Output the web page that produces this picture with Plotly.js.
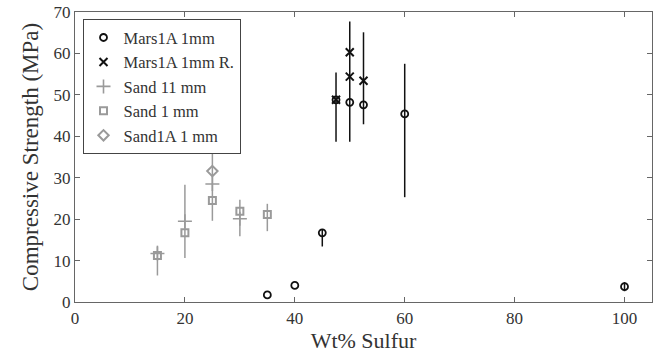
<!DOCTYPE html>
<html><head><meta charset="utf-8">
<script src="https://cdn.plot.ly/plotly-3.0.1.min.js"></script>
<style>html,body{margin:0;padding:0;background:#fff}</style>
</head><body>
<div id="chart" style="width:659px;height:356px"></div>
<script>
// Mars1A 1mm (open circles)
const marsX = [35, 40, 45, 47.5, 50, 52.5, 60, 100];
const marsY = [1.7, 4.0, 16.7, 48.8, 48.2, 47.6, 45.4, 3.7];
const marsErrPlus = [0, 0, 0.9, 0, 0, 0, 12.1, 1.1];
const marsErrMinus = [0, 0, 3.3, 0, 0, 0, 20.1, 1.1];
// Mars1A 1mm R. (crosses)
const marsRX = [47.5, 50, 50, 52.5];
const marsRY = [48.8, 60.3, 54.4, 53.4];
const marsRErrPlus = [6.6, 7.4, 0, 11.7];
const marsRErrMinus = [10.1, 21.6, 0, 10.5];
// Sand 11 mm (plus)
const sand11X = [15, 20, 25, 30];
const sand11Y = [11.7, 19.5, 28.5, 20.1];
const sand11ErrPlus = [1.9, 8.8, 8.6, 4.6];
const sand11ErrMinus = [5.3, 8.9, 8.9, 4.2];
// Sand 1 mm (squares)
const sand1X = [15, 20, 25, 30, 35];
const sand1Y = [11.2, 16.7, 24.5, 21.9, 21.1];
const sand1ErrPlus = [0, 0, 0, 0, 2.6];
const sand1ErrMinus = [0, 0, 0, 0, 4.0];
// Sand1A 1 mm (diamond)
const sand1AX = [25];
const sand1AY = [31.6];

const black = '#111';
const gray = '#9a9a9a';
const serif = "'Liberation Serif', 'DejaVu Serif', serif";
function err(p, m, c) {
  return {type: 'data', symmetric: false, array: p, arrayminus: m, color: c, thickness: 1.5, width: 0};
}
const traces = [
  {x: sand11X, y: sand11Y, name: 'Sand 11 mm', mode: 'markers', type: 'scatter',
   marker: {symbol: 'cross-thin-open', size: 10, color: gray, line: {color: gray, width: 1.6}},
   error_y: err(sand11ErrPlus, sand11ErrMinus, gray), legendrank: 3},
  {x: sand1X, y: sand1Y, name: 'Sand 1 mm', mode: 'markers', type: 'scatter',
   marker: {symbol: 'square-open', size: 7, color: gray, line: {color: gray, width: 2}},
   error_y: err(sand1ErrPlus, sand1ErrMinus, gray), legendrank: 4},
  {x: sand1AX, y: sand1AY, name: 'Sand1A 1 mm', mode: 'markers', type: 'scatter',
   marker: {symbol: 'diamond-open', size: 8, color: gray, line: {color: gray, width: 2}}, legendrank: 5},
  {x: marsX, y: marsY, name: 'Mars1A 1mm', mode: 'markers', type: 'scatter',
   marker: {symbol: 'circle-open', size: 7, color: black, line: {color: black, width: 1.8}},
   error_y: err(marsErrPlus, marsErrMinus, black), legendrank: 1},
  {x: marsRX, y: marsRY, name: 'Mars1A 1mm R.', mode: 'markers', type: 'scatter',
   marker: {symbol: 'x-thin-open', size: 8, color: black, line: {color: black, width: 2}},
   error_y: err(marsRErrPlus, marsRErrMinus, black), legendrank: 2}
];
const axisCommon = {
  showline: true, linecolor: '#666', linewidth: 1.2, mirror: 'ticks',
  ticks: 'inside', ticklen: 5, tickcolor: '#666', tickwidth: 1,
  showgrid: false, zeroline: false,
  tickfont: {family: serif, size: 17, color: '#333'}
};
const layout = {
  width: 659, height: 356,
  margin: {l: 75, r: 7, t: 12, b: 54},
  paper_bgcolor: '#fff', plot_bgcolor: '#fff',
  font: {family: serif, color: '#333'},
  showlegend: true,
  legend: {x: 0.013, y: 0.975, xanchor: 'left', yanchor: 'top', bgcolor: '#fff',
    bordercolor: '#444', borderwidth: 1, font: {family: serif, size: 16.5, color: '#333'},
    tracegroupgap: 0, itemsizing: 'trace', itemwidth: 30},
  xaxis: Object.assign({}, axisCommon, {range: [0, 105], tickvals: [0, 20, 40, 60, 80, 100],
    title: {text: 'Wt% Sulfur', font: {family: serif, size: 22, color: '#333'}, standoff: 6}}),
  yaxis: Object.assign({}, axisCommon, {range: [0, 70], tickvals: [0, 10, 20, 30, 40, 50, 60, 70],
    title: {text: 'Compressive Strength (MPa)', font: {family: serif, size: 23, color: '#333'}, standoff: 8}})
};
Plotly.newPlot('chart', traces, layout, {displayModeBar: false, staticPlot: true});
</script>
</body></html>
